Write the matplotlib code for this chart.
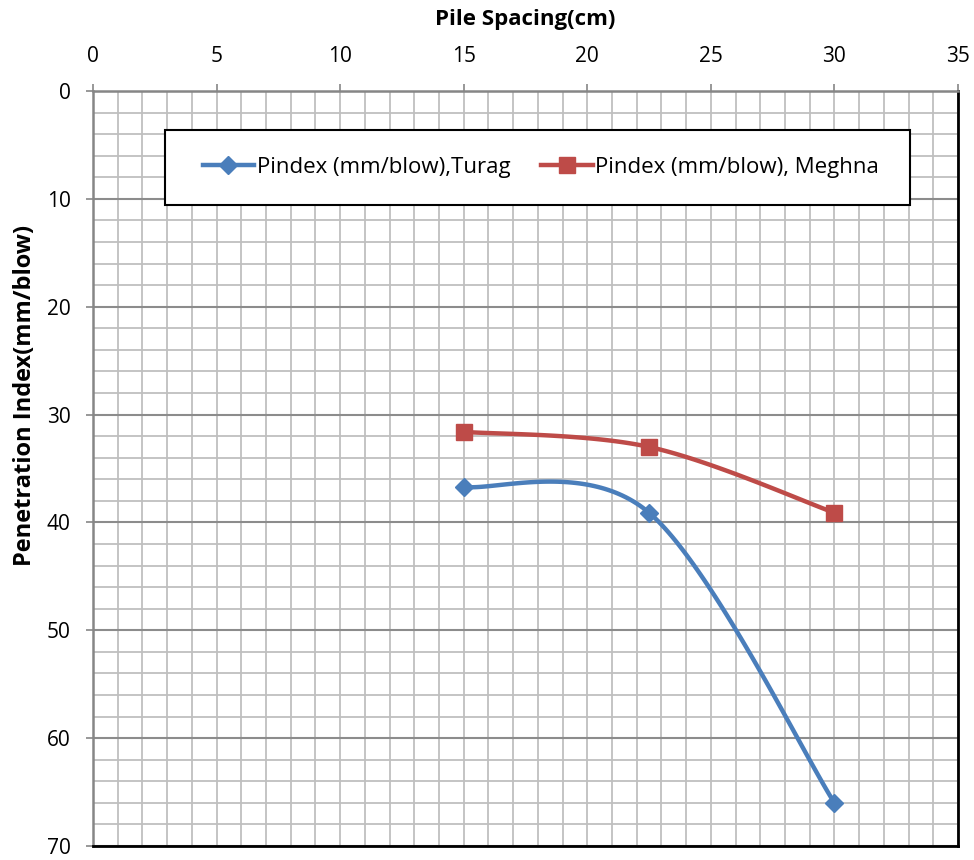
import numpy as np
import matplotlib
matplotlib.use("Agg")
import matplotlib.pyplot as plt
from matplotlib.patches import Rectangle
from matplotlib.ticker import MultipleLocator

plt.rcParams['font.family'] = ['Open Sans', 'DejaVu Sans']

spacing = [15, 22.5, 30]
pindex_turag = [36.7, 39.1, 66.0]
pindex_meghna = [31.6, 33.0, 39.1]

label_turag = "Pindex (mm/blow),Turag"
label_meghna = "Pindex (mm/blow), Meghna"
x_title = "Pile Spacing(cm)"
y_title = "Penetration Index(mm/blow)"


def smooth(xs, ys, n=60):
    """Excel-style smoothed line: cubic Bezier segments with Catmull-Rom tangents."""
    p = np.column_stack([xs, ys]).astype(float)
    ext = np.vstack([p[0], p, p[-1]])
    out = []
    t = np.linspace(0, 1, n)[:, None]
    for i in range(len(p) - 1):
        p0, p1 = ext[i + 1], ext[i + 2]
        c1 = p0 + (ext[i + 2] - ext[i]) / 6.0
        c2 = p1 - (ext[i + 3] - ext[i + 1]) / 6.0
        seg = ((1 - t) ** 3) * p0 + 3 * ((1 - t) ** 2) * t * c1 + 3 * (1 - t) * t ** 2 * c2 + t ** 3 * p1
        out.append(seg if i == 0 else seg[1:])
    seg = np.vstack(out)
    return seg[:, 0], seg[:, 1]


W, H = 974, 860
fig = plt.figure(figsize=(W / 100, H / 100), dpi=100)
ax = fig.add_axes([93 / W, 1 - 846 / H, (958 - 93) / W, (846 - 91) / H])

blue = "#4A7EBB"
red = "#BE4B48"

sx, sy = smooth(spacing, pindex_turag)
ax.plot(sx, sy, color=blue, lw=3.2, solid_capstyle='round', zorder=3)
ax.plot(spacing, pindex_turag, ls='none', marker='D', ms=9.5, color=blue, zorder=4)
sx, sy = smooth(spacing, pindex_meghna)
ax.plot(sx, sy, color=red, lw=3.2, solid_capstyle='round', zorder=3)
ax.plot(spacing, pindex_meghna, ls='none', marker='s', ms=12, color=red, zorder=4)

# legend proxies: line through marker
h1, = ax.plot([], [], color=blue, lw=3.2, marker='D', ms=9.5, label=label_turag)
h2, = ax.plot([], [], color=red, lw=3.2, marker='s', ms=12, label=label_meghna)

ax.set_xlim(0, 35)
ax.set_ylim(70, 0)
ax.xaxis.set_major_locator(MultipleLocator(5))
ax.xaxis.set_minor_locator(MultipleLocator(1))
ax.yaxis.set_major_locator(MultipleLocator(10))
ax.yaxis.set_minor_locator(MultipleLocator(2))
ax.xaxis.tick_top()

ax.grid(which='minor', color='#BFBFBF', lw=1.3, zorder=0)
ax.grid(which='major', axis='x', color='#BFBFBF', lw=1.3, zorder=0)
ax.grid(which='major', axis='y', color='#8C8C8C', lw=1.5, zorder=0)
ax.set_axisbelow(True)

ax.tick_params(which='major', direction='out', length=5, width=1.2, color='#868686',
               labelsize=15)
ax.tick_params(axis='x', pad=12)
ax.tick_params(axis='y', pad=11)
ax.tick_params(which='minor', length=0)

for side in ['left', 'top']:
    ax.spines[side].set_color('#868686')
    ax.spines[side].set_linewidth(1.8)
for side in ['right', 'bottom']:
    ax.spines[side].set_color('black')
    ax.spines[side].set_linewidth(2)

fig.text(525 / W, 1 - 20 / H, x_title, fontsize=16, fontweight='bold',
         ha='center', va='center')
fig.text(25 / W, 1 - 395 / H, y_title, fontsize=17, fontweight='bold',
         ha='center', va='center', rotation=90)

# legend box (white panel with black border) and its entries
box_x0, box_x1, box_y0, box_y1 = 165, 910, 130, 205
fig.add_artist(Rectangle((box_x0 / W, 1 - box_y1 / H), (box_x1 - box_x0) / W,
                         (box_y1 - box_y0) / H, transform=fig.transFigure,
                         facecolor='white', edgecolor='black', lw=1.5, zorder=5))
leg = fig.legend(handles=[h1, h2], ncol=2, loc='center',
                 bbox_to_anchor=(541 / W, 1 - 167.5 / H),
                 fontsize=16, frameon=False,
                 handlelength=2.3, handletextpad=0.12, columnspacing=1.4,
                 borderpad=0, borderaxespad=0)
leg.set_zorder(6)

fig.savefig("out.png", dpi=100)
